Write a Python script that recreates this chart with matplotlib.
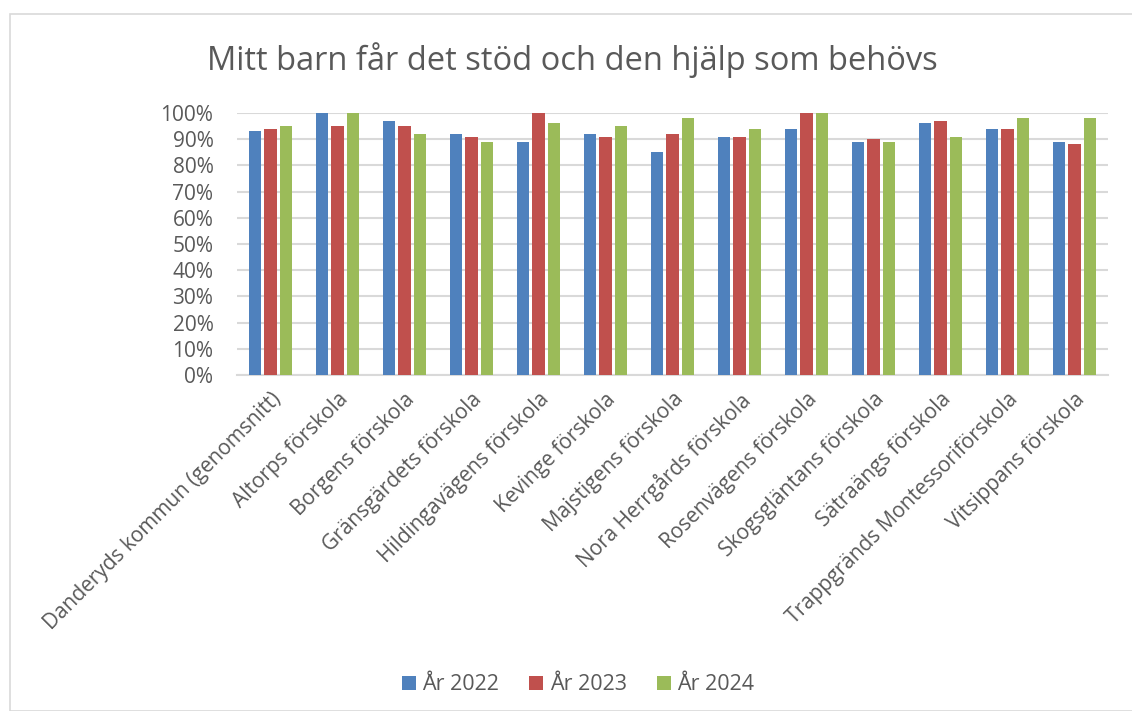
import matplotlib
matplotlib.use("Agg")
import matplotlib.pyplot as plt
import numpy as np
from matplotlib.patches import Rectangle

categories = ["Danderyds kommun (genomsnitt)", "Altorps förskola", "Borgens förskola",
              "Gränsgärdets förskola", "Hildingavägens förskola", "Kevinge förskola",
              "Majstigens förskola", "Nora Herrgårds förskola", "Rosenvägens förskola",
              "Skogsgläntans förskola", "Sätraängs förskola", "Trappgränds Montessoriförskola",
              "Vitsippans förskola"]
y2022 = [93, 100, 97, 92, 89, 92, 85, 91, 94, 89, 96, 94, 89]
y2023 = [94, 95, 95, 91, 100, 91, 92, 91, 100, 90, 97, 94, 88]
y2024 = [95, 100, 92, 89, 96, 95, 98, 94, 100, 89, 91, 98, 98]
series_labels = ["År 2022", "År 2023", "År 2024"]
colors = ["#4F81BD", "#C0504D", "#9BBB59"]

plt.rcParams['font.family'] = ['Open Sans', 'DejaVu Sans']

W, H = 1132, 711
fig = plt.figure(figsize=(W/100, H/100), dpi=100)
ax = fig.add_axes([237/W, 1-375/H, (1108-237)/W, (375-113)/H])

x = np.arange(len(categories))
bw = 0.18
step = 0.225
for i, (vals, lab, c) in enumerate(zip([y2022, y2023, y2024], series_labels, colors)):
    ax.bar(x + (i-1)*step, vals, width=bw, color=c, label=lab, zorder=3)

ax.set_xlim(-0.5, len(categories)-0.5)
ax.set_ylim(0, 100)
ax.set_yticks(np.arange(0, 101, 10))
ax.set_yticklabels([f"{v}%" for v in range(0, 101, 10)], fontsize=15, color="#595959")
ax.yaxis.grid(True, color="#D9D9D9", linewidth=1.5, zorder=0)
ax.set_xticks(x)
ax.set_xticklabels(categories, rotation=45, ha="right", rotation_mode="anchor",
                   fontsize=15, color="#595959")
ax.tick_params(axis="y", length=0, pad=17)
ax.tick_params(axis="x", length=0, pad=10)
for s in ["top", "right", "left"]:
    ax.spines[s].set_visible(False)
ax.spines["bottom"].set_color("#D9D9D9")
ax.spines["bottom"].set_linewidth(1.5)

fig.text(572/W, 1-60/H, "Mitt barn får det stöd och den hjälp som behövs",
         ha="center", va="center", fontsize=23.5, color="#595959")

fig.legend(loc="center", bbox_to_anchor=(578/W, 1-685/H), ncol=3, frameon=False,
           fontsize=15.5, handlelength=0.65, handleheight=0.65, columnspacing=1.4,
           handletextpad=0.3, labelcolor="#595959")

fig.patches.append(Rectangle((10/W, 0), 1.2, 1-14/H, transform=fig.transFigure,
                             fill=False, edgecolor="#D9D9D9", linewidth=1.2))

fig.savefig("out.png", dpi=100)
